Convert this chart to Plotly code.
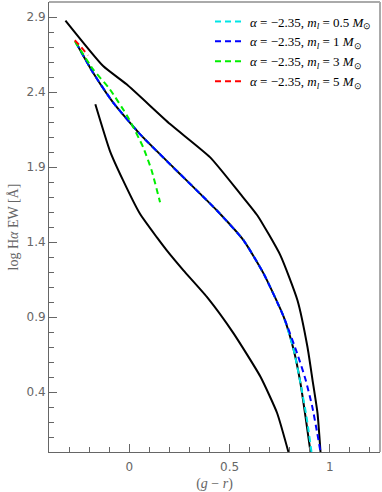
import plotly.graph_objects as go

# black reference curves
upper_x = [-0.318, -0.130, -0.013, 0.2035, 0.4035, 0.5535, 0.639, 0.7535, 0.8385, 0.8885, 0.9135, 0.9385, 0.9535]
upper_y = [2.876, 2.573, 2.451, 2.186, 1.964, 1.721, 1.577, 1.311, 1.012, 0.700, 0.481, 0.259, 0.0]

middle_x = [-0.2665, -0.18, -0.08, 0.0535, 0.22, 0.437, 0.57, 0.67, 0.77, 0.82, 0.8535, 0.8785, 0.9035]
middle_y = [2.732, 2.528, 2.329, 2.119, 1.897, 1.610, 1.411, 1.189, 0.901, 0.680, 0.459, 0.237, 0.0]

lower_x = [-0.169, -0.0965, -0.03, 0.0535, 0.137, 0.187, 0.27, 0.387, 0.52, 0.6535, 0.737, 0.7935]
lower_y = [2.318, 2.008, 1.809, 1.588, 1.432, 1.344, 1.211, 1.034, 0.791, 0.503, 0.260, 0.0]

# alpha = -2.35 models
ml05_x = [-0.2665, -0.18, -0.08, 0.0535, 0.22, 0.437, 0.57, 0.67, 0.77, 0.82, 0.8535, 0.8835, 0.9085]
ml05_y = [2.732, 2.528, 2.329, 2.119, 1.897, 1.610, 1.411, 1.189, 0.901, 0.680, 0.459, 0.237, 0.0]

ml1_x = [-0.2665, -0.18, -0.08, 0.0535, 0.22, 0.437, 0.57, 0.67, 0.77, 0.837, 0.8785, 0.912, 0.937, 0.9535]
ml1_y = [2.732, 2.528, 2.329, 2.119, 1.897, 1.610, 1.411, 1.189, 0.901, 0.658, 0.485, 0.304, 0.127, 0.0]

ml3_x = [-0.2715, -0.18, -0.0965, -0.005, 0.07, 0.112, 0.1535]
ml3_y = [2.739, 2.551, 2.418, 2.229, 2.030, 1.875, 1.665]

ml5_x = [-0.2715, -0.24, -0.205]
ml5_y = [2.745, 2.700, 2.644]

labels = ["0.5", "1", "3", "5"]
colors = ["#00e5e5", "#0000ff", "#00ee00", "#ff0000"]

fig = go.Figure()

for xs, ys in [(upper_x, upper_y), (middle_x, middle_y), (lower_x, lower_y)]:
    fig.add_trace(go.Scatter(x=xs, y=ys, mode="lines",
                             line=dict(color="black", width=2, shape="spline", smoothing=0.5),
                             showlegend=False, hoverinfo="skip"))

series = [(ml05_x, ml05_y), (ml1_x, ml1_y), (ml3_x, ml3_y), (ml5_x, ml5_y)]
for (xs, ys), lab, c in zip(series, labels, colors):
    fig.add_trace(go.Scatter(
        x=xs, y=ys, mode="lines",
        line=dict(color=c, width=2, dash="6px,4px", shape="spline", smoothing=0.5),
        name="<i>α</i> = −2.35, <i>m<sub>l</sub></i> = " + lab + " <i>M</i><sub>⊙</sub> ",
    ))

grey = "#666666"
fig.update_layout(
    width=382, height=492,
    margin=dict(l=49, r=2, t=2, b=40),
    paper_bgcolor="white", plot_bgcolor="white",
    font=dict(family="Liberation Serif", color=grey, size=13),
    legend=dict(x=1.0, y=0.99, xanchor="right", yanchor="top", bgcolor="rgba(0,0,0,0)",
                font=dict(family="Liberation Serif", size=13, color="black"),
                itemwidth=30, tracegroupgap=0),
    xaxis=dict(range=[-0.4, 1.25], tick0=0, dtick=0.5, ticks="inside", ticklen=8, tickcolor=grey,
               showgrid=False, zeroline=False, showline=True, linecolor=grey, linewidth=1,
               automargin=False, ticklabelstandoff=4,
               tickfont=dict(family="DejaVu Sans", size=12, color=grey),
               minor=dict(dtick=0.1, ticks="inside", ticklen=5, tickcolor=grey),
               title=dict(text="(<i>g</i> − <i>r</i>)", standoff=4,
                          font=dict(family="Liberation Serif", size=14, color=grey))),
    yaxis=dict(range=[0, 3.0], tick0=0.4, dtick=0.5, ticks="inside", ticklen=8, tickcolor=grey,
               showgrid=False, zeroline=False, showline=True, linecolor=grey, linewidth=1,
               automargin=False,
               tickfont=dict(family="DejaVu Sans", size=12, color=grey),
               minor=dict(dtick=0.1, tick0=0.0, ticks="inside", ticklen=5, tickcolor=grey),
               title=dict(text="log H<i>α</i> EW [Å]", standoff=4,
                          font=dict(family="Liberation Serif", size=14, color=grey))),
    shapes=[
        dict(type="line", xref="paper", yref="paper", x0=0, x1=1, y0=1, y1=1,
             line=dict(color="#aaaaaa", width=2)),
        dict(type="line", xref="paper", yref="paper", x0=1, x1=1, y0=0, y1=1,
             line=dict(color="#aaaaaa", width=2)),
    ],
)

# drop the default page margin so the figure sits at the window's corner
fig.write_html("out.html", config={"displayModeBar": False},
               post_script="document.body.style.margin='0';")
